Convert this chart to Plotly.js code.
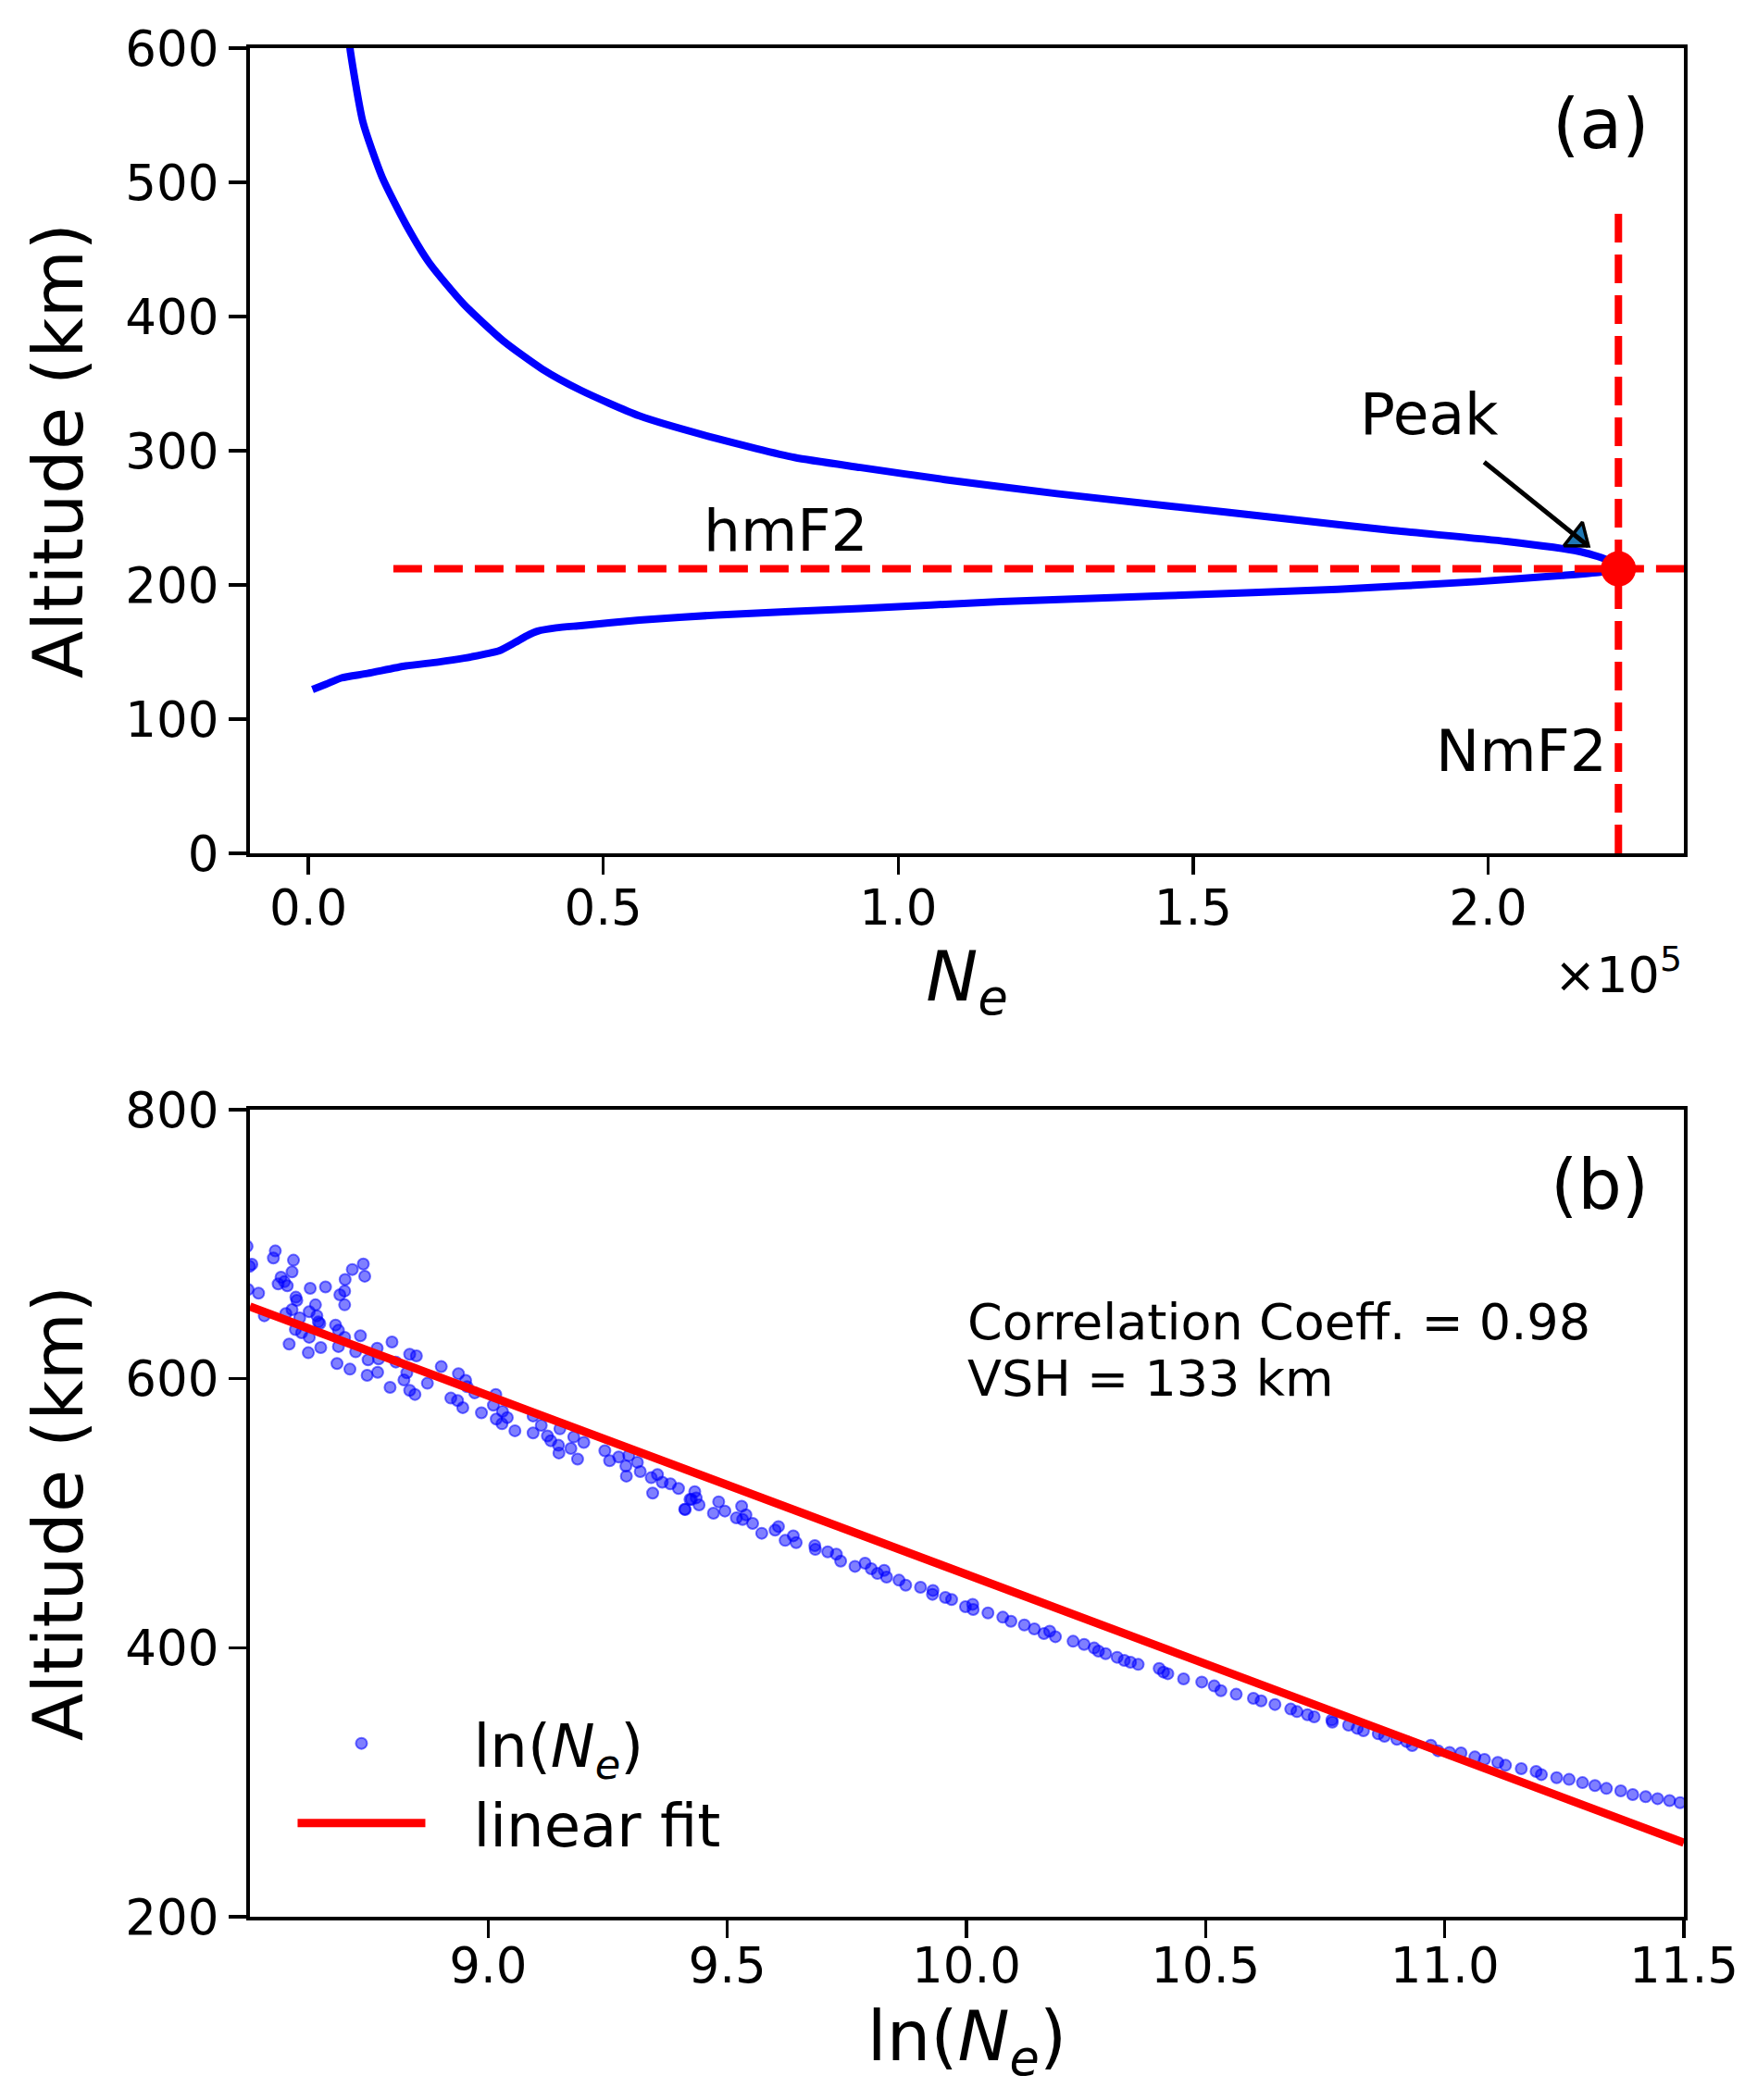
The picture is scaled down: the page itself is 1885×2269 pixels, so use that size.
<!DOCTYPE html>
<html>
<head>
<meta charset="utf-8">
<script src="https://cdn.plot.ly/plotly-3.0.1.min.js"></script>
<style>
  html, body { margin: 0; padding: 0; background: #fff; }
  #chart { width: 1885px; height: 2269px; }
</style>
</head>
<body>
<div id="chart"></div>
<script>
// ── Panel (a): electron density profile, Ne in units of 1e5 ──────────────────
const neProfile = [
  0.007, 0.030, 0.056, 0.100, 0.165, 0.220, 0.264, 0.300, 0.323, 0.350, 0.370,
  0.389, 0.420, 0.462, 0.561, 0.693, 0.936, 1.174, 1.459, 1.745, 1.983, 2.125,
  2.190, 2.221,
  2.200, 2.154, 2.031, 1.840, 1.650, 1.459, 1.269, 1.079, 0.936, 0.824, 0.693,
  0.561, 0.462, 0.396, 0.330, 0.264, 0.205, 0.165, 0.125, 0.0925, 0.0715, 0.068
];
const altProfile = [
  122.0, 126.0, 130.7, 134.0, 139.6, 142.5, 145.4, 148.5, 150.8, 157.0, 162.0,
  165.6, 168.0, 169.7, 173.8, 177.6, 182.4, 187.6, 192.0, 196.8, 202.5, 207.0,
  209.5, 212.0,
  219.0, 225.0, 232.4, 240.5, 249.7, 258.8, 268.0, 278.5, 287.5, 295.0, 309.0,
  326.0, 345.0, 361.0, 382.0, 409.0, 440.0, 469.0, 504.0, 545.0, 597.0, 610.0
];
const NmF2 = 2.221;   // x1e5
const hmF2 = 212.0;   // km
const arrowTip  = [2.170, 229.0];
const arrowTail = [1.991, 292.4];
const arrowHead = [2.153, 235.0];
const neTicks = [0.0, 0.5, 1.0, 1.5, 2.0];
const altTicksA = [0, 100, 200, 300, 400, 500, 600];

// ── Panel (b): ln(Ne) vs altitude ─────────────────────────────────────────────
const lnNe = [
  8.496, 8.506, 8.501, 8.498, 8.520, 8.555, 8.551, 8.593, 8.590, 8.567, 8.574,
  8.561, 8.580, 8.628, 8.660, 8.598, 8.600, 8.639, 8.590, 8.577, 8.532, 8.606,
  8.626, 8.642, 8.645, 8.648, 8.681, 8.687, 8.597, 8.610, 8.626, 8.584, 8.624,
  8.650, 8.687, 8.700, 8.733, 8.716, 8.739, 8.742, 8.701, 8.700, 8.690, 8.700,
  8.723, 8.768, 8.799, 8.749, 8.771, 8.684, 8.711, 8.747, 8.769, 8.795, 8.807,
  8.836, 8.850, 8.830, 8.824, 8.836, 8.847, 8.873, 8.902, 8.938, 8.953, 8.956,
  8.972, 8.922, 8.936, 8.947, 8.986, 9.016, 9.011, 9.030, 9.040, 9.017, 9.029,
  9.056, 9.094, 9.111, 9.094, 9.124, 9.131, 9.150, 9.179, 9.200, 9.147, 9.173,
  9.148, 9.187, 9.244, 9.254, 9.273, 9.294, 9.288, 9.312, 9.318, 9.289, 9.341,
  9.354, 9.364, 9.381, 9.398, 9.344, 9.411, 9.422,
  9.412, 9.432, 9.435, 9.425, 9.441, 9.471, 9.482, 9.495, 9.530, 9.519, 9.532,
  9.539, 9.553, 9.572, 9.600, 9.607, 9.621, 9.638, 9.644, 9.683, 9.684, 9.710,
  9.728, 9.737, 9.767, 9.788, 9.801, 9.814, 9.828, 9.833, 9.859, 9.873, 9.904,
  9.930, 9.929, 9.956, 9.969, 9.998, 10.013, 10.014, 10.045, 10.076, 10.093,
  10.121, 10.142, 10.162, 10.174, 10.186, 10.223, 10.246, 10.267, 10.276,
  10.291, 10.315, 10.330, 10.343, 10.359, 10.403, 10.412,
  10.421, 10.454, 10.492, 10.518, 10.532, 10.564, 10.600, 10.616, 10.645,
  10.678, 10.691, 10.713, 10.727, 10.764, 10.765, 10.799, 10.817, 10.830,
  10.861, 10.874, 10.900, 10.920, 10.932, 10.971, 10.986, 11.010, 11.034,
  11.063, 11.083, 11.111, 11.127, 11.160, 11.191, 11.202, 11.234, 11.260,
  11.288, 11.314, 11.338, 11.368, 11.393, 11.420, 11.445, 11.470, 11.492
];
const altB = [
  698.4, 685.1, 683.5, 666.3, 663.6, 695.0, 689.7, 688.1, 679.4, 675.5, 672.1,
  670.5, 669.1, 667.2, 668.2, 660.6, 658.3, 654.9, 651.4, 648.4, 646.8, 645.2,
  649.8, 646.8, 642.2, 641.1, 639.9, 636.0, 636.5, 634.2, 630.8, 625.7, 619.3,
  623.2, 623.9, 630.8, 631.9, 681.2, 685.3, 676.2, 673.7, 665.2, 662.4, 654.9,
  620.0, 622.7, 627.3, 614.0, 614.7, 611.3, 607.1, 602.5, 604.8, 593.6, 612.4,
  618.2, 617.0, 604.4, 599.1, 591.3, 588.3, 596.6, 609.0, 603.7, 598.7, 594.1,
  589.5, 585.6, 583.8, 578.5, 574.6, 588.3, 580.3, 575.7, 571.1, 570.0, 566.5,
  561.3, 572.3, 565.4, 559.7, 557.4, 553.9, 562.7, 556.7, 552.6, 550.5, 548.2,
  544.8, 540.2, 546.4, 539.0, 541.8, 542.9, 535.1, 537.9, 531.0, 527.6, 526.4,
  528.7, 523.0, 521.8, 518.4, 515.0, 503.0, 510.3,
  502.7, 516.0, 511.4, 510.3, 506.2, 500.0, 508.5, 501.6, 505.2, 496.5, 495.4,
  498.8, 492.4, 485.1, 487.4, 490.1, 479.8, 483.2, 478.2, 475.9, 473.1, 471.3,
  469.5, 464.4, 460.5, 462.8, 458.7, 455.2, 457.5, 452.5, 450.2, 446.5, 444.9,
  442.6, 439.7, 437.4, 435.8, 430.5, 432.3, 428.4, 425.9, 422.7, 419.7,
  416.9, 414.0, 410.5, 412.3, 408.2, 404.8, 402.5, 399.8, 397.5,
  395.6, 392.9, 390.6, 389.2, 387.6, 384.6, 381.9,
  380.7, 376.8, 374.5, 371.6, 368.1, 365.4, 362.4, 360.5, 357.8,
  354.4, 352.5, 350.2, 348.6, 346.3, 344.7, 342.4, 340.1, 338.3,
  336.0, 334.2, 331.9, 330.3, 327.3, 327.5, 323.4, 322.2, 321.8,
  318.8, 317.0, 314.7, 312.6, 310.1, 308.0, 305.7, 303.4, 302.1,
  299.7, 297.5, 295.4, 293.6, 290.8, 289.3, 287.8, 286.3, 284.8
];
const fitX = [8.502, 11.5];
const fitAlt = [653.7, 255.0];
const lnTicks = [9.0, 9.5, 10.0, 10.5, 11.0, 11.5];
const altTicksB = [200, 400, 600, 800];
const corrCoeff = 0.98;
const vsh = 133;

// ── Styling helpers ───────────────────────────────────────────────────────────
const FONT = 'DejaVu Sans, sans-serif';
const tickFont = { family: FONT, size: 53, color: '#000' };
const titleFont = { family: FONT, size: 75, color: '#000' };

function axisStyle(extra) {
  return Object.assign({
    showgrid: false, zeroline: false,
    showline: true, linecolor: '#000', linewidth: 4, mirror: true,
    ticks: 'outside', ticklen: 19, tickwidth: 3.5, tickcolor: '#000',
    tickfont: tickFont,
  }, extra);
}

const traces = [
  {
    x: neProfile, y: altProfile, xaxis: 'x', yaxis: 'y',
    type: 'scatter', mode: 'lines', showlegend: false,
    line: { color: '#0000ff', width: 8, shape: 'spline', smoothing: 0.6 },
  },
  {
    x: [NmF2], y: [hmF2], xaxis: 'x', yaxis: 'y',
    type: 'scatter', mode: 'markers', showlegend: false,
    marker: { color: '#ff0000', size: 38 },
  },
  {
    x: [arrowHead[0]], y: [arrowHead[1]], xaxis: 'x', yaxis: 'y',
    type: 'scatter', mode: 'markers', showlegend: false,
    marker: { symbol: 'triangle-up', angle: 128, size: 28, color: '#1f77b4',
              line: { color: '#000', width: 3.5 } },
  },
  {
    x: lnNe, y: altB, xaxis: 'x2', yaxis: 'y2',
    type: 'scatter', mode: 'markers',
    name: '&nbsp;&nbsp;\u200aln(<i>N<sub>e</sub></i>)',
    marker: { color: 'rgba(0,0,255,0.5)', size: 12,
              line: { color: 'rgba(0,0,255,0.55)', width: 2 } },
  },
  {
    x: fitX, y: fitAlt, xaxis: 'x2', yaxis: 'y2',
    type: 'scatter', mode: 'lines', name: '&nbsp;&nbsp;\u200alinear fit',
    line: { color: '#ff0000', width: 9 },
  },
];

const layout = {
  width: 1885, height: 2269,
  margin: { l: 270, r: 66, t: 52, b: 198 },
  paper_bgcolor: '#fff', plot_bgcolor: '#fff',
  font: { family: FONT, color: '#000' },
  xaxis: axisStyle({
    domain: [0, 1], anchor: 'y', range: [-0.099, 2.332],
    tickvals: neTicks, tickformat: '.1f', ticklabelstandoff: -10,
    title: { text: '<i>N<sub>e</sub></i>', font: titleFont, standoff: 18 },
  }),
  yaxis: axisStyle({
    domain: [0.5691, 1], anchor: 'x', range: [0, 600],
    tickvals: altTicksA,
    title: { text: 'Altitude (km)', font: titleFont, standoff: 22 },
  }),
  xaxis2: axisStyle({
    domain: [0, 1], anchor: 'y2', range: [8.502, 11.5],
    tickvals: lnTicks, tickformat: '.1f', ticklabelstandoff: -16,
    title: { text: 'ln(<i>N<sub>e</sub></i>)', font: titleFont, standoff: 22 },
  }),
  yaxis2: axisStyle({
    domain: [0, 0.4319], anchor: 'x2', range: [200, 800],
    tickvals: altTicksB,
    title: { text: 'Altitude (km)', font: titleFont, standoff: 22 },
  }),
  shapes: [
    { type: 'line', xref: 'x domain', yref: 'y', x0: 0.1, x1: 1, y0: hmF2, y1: hmF2,
      line: { color: '#ff0000', width: 8, dash: '31px,13px' } },
    { type: 'line', xref: 'x', yref: 'y domain', x0: NmF2, x1: NmF2, y0: 0, y1: 0.8,
      line: { color: '#ff0000', width: 8, dash: '31px,13px' } },
  ],
  annotations: [
    { xref: 'x', yref: 'y', x: arrowTip[0], y: arrowTip[1],
      axref: 'x', ayref: 'y', ax: arrowTail[0], ay: arrowTail[1],
      text: '', showarrow: true, arrowhead: 0, arrowwidth: 5, arrowcolor: '#000' },
    { xref: 'x', yref: 'y', x: 1.90, y: 327, text: 'Peak', showarrow: false,
      xanchor: 'center', yanchor: 'middle', font: { family: FONT, size: 63 } },
    { xref: 'x', yref: 'y', x: 0.81, y: 240, text: 'hmF2', showarrow: false,
      xanchor: 'center', yanchor: 'middle', font: { family: FONT, size: 63 } },
    { xref: 'x', yref: 'y', x: 2.205, y: 76, text: 'NmF2', showarrow: false,
      xanchor: 'right', yanchor: 'middle', font: { family: FONT, size: 63 } },
    { xref: 'x domain', yref: 'y domain', x: 0.977, y: 0.906, text: '(a)', showarrow: false,
      xanchor: 'right', yanchor: 'middle', font: { family: FONT, size: 75 } },
    { xref: 'x domain', yref: 'paper', x: 1.0, y: 0.506, text: '×10<sup>5</sup>', showarrow: false,
      xanchor: 'right', yanchor: 'middle', font: { family: FONT, size: 54 } },
    { xref: 'x2 domain', yref: 'y2 domain', x: 0.977, y: 0.907, text: '(b)', showarrow: false,
      xanchor: 'right', yanchor: 'middle', font: { family: FONT, size: 75 } },
    { xref: 'x2 domain', yref: 'y2 domain', x: 0.499, y: 0.737,
      text: 'Correlation Coeff. = ' + corrCoeff.toFixed(2), showarrow: false,
      xanchor: 'left', yanchor: 'middle', font: { family: FONT, size: 54 } },
    { xref: 'x2 domain', yref: 'y2 domain', x: 0.499, y: 0.667,
      text: 'VSH = ' + vsh + ' km', showarrow: false,
      xanchor: 'left', yanchor: 'middle', font: { family: FONT, size: 54 } },
  ],
  legend: {
    x: 0.03, y: 0.0713, xanchor: 'left', yanchor: 'middle',
    bgcolor: 'rgba(255,255,255,0)', borderwidth: 0,
    font: { family: FONT, size: 64, color: '#000' },
    itemwidth: 138, traceorder: 'normal',
  },
};

Plotly.newPlot('chart', traces, layout, { displayModeBar: false, staticPlot: true });
</script>
</body>
</html>
